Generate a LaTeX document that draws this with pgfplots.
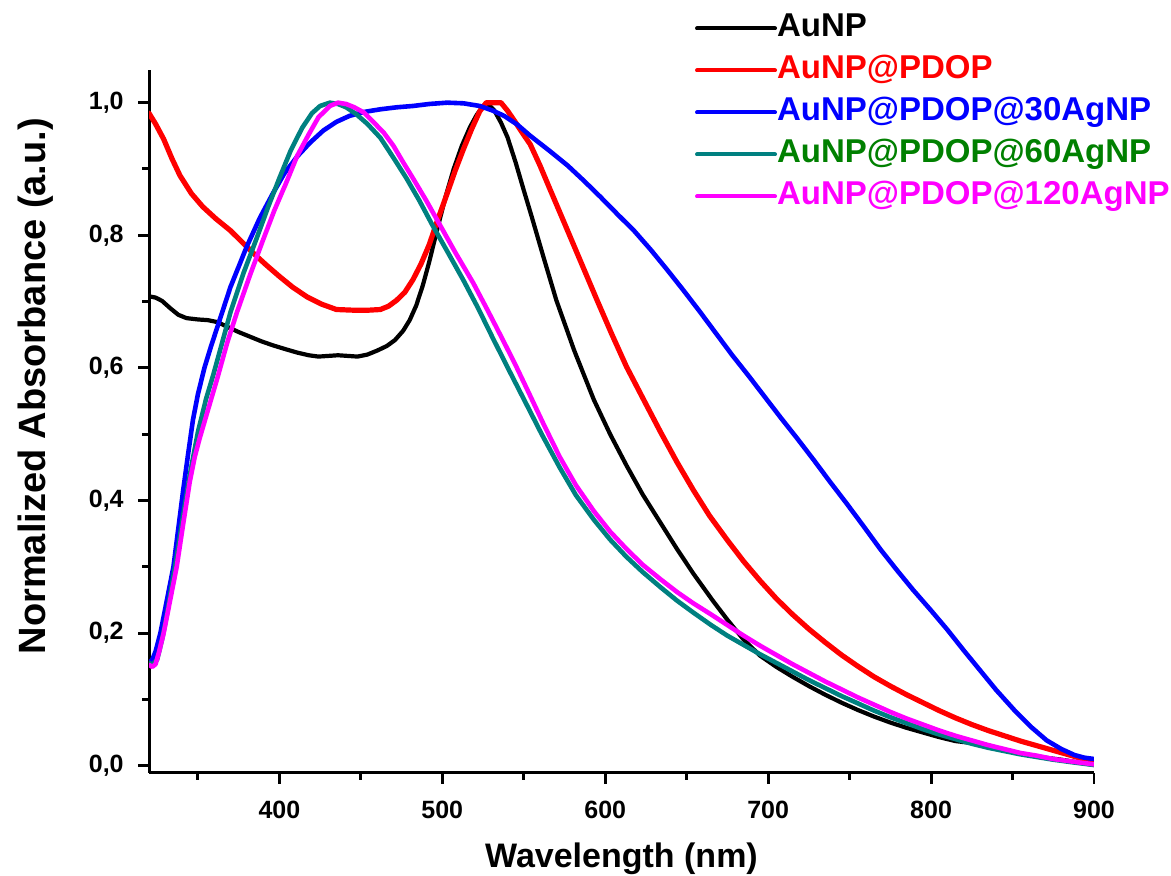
\documentclass[border=0pt]{standalone}
\usepackage{fontspec}
\setmainfont{Liberation Sans}
\usepackage{pgfplots}
\pgfplotsset{compat=1.18}
\definecolor{cteal}{RGB}{0,128,128}
\definecolor{cgreen}{RGB}{0,128,0}
\definecolor{cmag}{RGB}{255,0,255}

\begin{document}
\begin{tikzpicture}
\begin{axis}[
  scale only axis, width=472.5pt, height=351.35pt,
  xmin=320, xmax=900, ymin=-0.0106, ymax=1.0493,
  axis x line*=bottom, axis y line*=left,
  axis line style={line width=1.5pt},
  xtick={400,500,...,900}, minor xtick={350,450,...,850},
  ytick={0,0.2,0.4,0.6,0.8,1.0}, minor ytick={0.1,0.3,0.5,0.7,0.9},
  tick align=outside, major tick length=5.5pt, minor tick length=3.5pt,
  tick style={black, line width=1.5pt},
  /pgf/number format/assume math mode=true,
  tick label style={font=\fontsize{12.5}{14}\selectfont\bfseries, inner sep=0pt},
  y tick label style={/pgf/number format/.cd, fixed, fixed zerofill, precision=1, use comma, /tikz/.cd, xshift=-7pt},
  x tick label style={/pgf/number format/.cd, fixed, 1000 sep={}, /tikz/.cd, yshift=-8.5pt},
  xlabel={Wavelength (nm)},
  ylabel={Normalized Absorbance (a.u.)},
  xlabel style={font=\fontsize{17}{20}\selectfont\bfseries, at={(rel axis cs:0.5,-0.135)}, anchor=base},
  ylabel style={font=\fontsize{19}{22}\selectfont\bfseries, at={(rel axis cs:-0.110,0.55)}, anchor=base},
  legend style={at={(rel axis cs:0.5778,1.0811)}, anchor=north west, draw=none, fill=none,
    inner sep=0pt, outer sep=0pt, row sep=5.5pt,
    font=\fontsize{16.5}{18}\selectfont\bfseries,
    nodes={inner sep=0pt, text height=12pt, text depth=3.5pt},
    /tikz/every even column/.append style={column sep=4pt}},
  legend cell align=left,
  legend image code/.code={\draw[#1, line width=2pt] (0pt,0pt) -- (39pt,0pt);},
  every axis plot/.append style={line join=round, line cap=round},
]
\addplot[black, line width=2.1pt] coordinates {
(320,0.708)(324,0.706)(328,0.701)(333,0.690)(338,0.680)(343,0.675)(350,0.673)(356,0.672)(362,0.669)(368,0.662)(375,0.654)(382,0.647)(389,0.640)(396,0.634)(404,0.628)(411,0.623)(418,0.619)(424,0.617)(430,0.618)(436,0.619)(442,0.618)(448,0.617)(454,0.620)(460,0.626)(466,0.633)(471,0.642)(476,0.656)(480,0.672)(484,0.694)(488,0.724)(492,0.760)(497,0.810)(502,0.858)(507,0.900)(512,0.935)(517,0.963)(521,0.981)(525,0.995)(528,0.998)(532,0.988)(536,0.970)(540,0.948)(545,0.910)(550,0.868)(555,0.827)(562,0.768)(570,0.702)(581,0.626)(593,0.552)(603,0.500)(613,0.453)(623,0.409)(634,0.366)(644,0.327)(654,0.290)(666,0.249)(675,0.220)(685,0.190)(695,0.166)(705,0.149)(715,0.134)(725,0.120)(735,0.107)(745,0.095)(755,0.084)(765,0.074)(775,0.065)(785,0.057)(795,0.050)(805,0.043)(815,0.037)(822,0.035)(829,0.034)(836,0.030)(843,0.025)(850,0.021)(860,0.016)(870,0.012)(880,0.009)(890,0.005)(900,0.001)
};
\addlegendentry{AuNP}
\addplot[red, line width=2.6pt] coordinates {
(320,0.984)(324,0.968)(329,0.945)(334,0.916)(339,0.890)(346,0.863)(353,0.843)(361,0.825)(370,0.807)(377,0.790)(384,0.773)(392,0.755)(400,0.738)(408,0.722)(417,0.707)(426,0.696)(435,0.688)(445,0.687)(455,0.687)(462,0.688)(467,0.693)(472,0.702)(477,0.714)(482,0.733)(487,0.757)(492,0.786)(497,0.822)(503,0.863)(508,0.898)(513,0.930)(518,0.960)(523,0.987)(527,1.0)(536,1.0)(540,0.988)(545,0.970)(549,0.955)(554,0.937)(560,0.905)(566,0.870)(575,0.818)(585,0.760)(595,0.702)(604,0.651)(613,0.602)(624,0.550)(634,0.503)(644,0.458)(654,0.416)(664,0.377)(675,0.340)(685,0.308)(695,0.279)(705,0.252)(715,0.228)(725,0.206)(735,0.186)(745,0.167)(755,0.150)(765,0.134)(775,0.120)(785,0.107)(795,0.095)(805,0.083)(815,0.072)(825,0.062)(835,0.053)(845,0.045)(855,0.037)(865,0.030)(875,0.023)(885,0.016)(892,0.011)(900,0.005)
};
\addlegendentry{\color{red}AuNP@PDOP}
\addplot[blue, line width=2.3pt] coordinates {
(320,0.155)(322,0.160)(324,0.172)(327,0.200)(331,0.250)(335,0.300)(338,0.358)(341,0.416)(344,0.470)(347,0.522)(350,0.560)(354,0.600)(358,0.632)(362,0.662)(370,0.722)(380,0.783)(388,0.826)(396,0.863)(403,0.893)(411,0.919)(419,0.940)(427,0.958)(435,0.971)(443,0.980)(452,0.986)(462,0.990)(472,0.993)(482,0.995)(492,0.998)(503,1.0)(513,0.999)(523,0.995)(531,0.988)(538,0.980)(546,0.967)(554,0.950)(566,0.927)(577,0.905)(587,0.882)(597,0.858)(607,0.833)(618,0.806)(628,0.778)(638,0.748)(648,0.717)(658,0.685)(668,0.652)(678,0.619)(688,0.588)(698,0.556)(708,0.524)(718,0.493)(728,0.461)(738,0.428)(748,0.396)(758,0.363)(769,0.326)(779,0.295)(789,0.265)(800,0.234)(810,0.205)(820,0.174)(830,0.144)(840,0.114)(851,0.084)(862,0.057)(871,0.038)(880,0.025)(888,0.016)(894,0.012)(900,0.010)
};
\addlegendentry{\color{blue}AuNP@PDOP@30AgNP}
\addplot[cteal, line width=2.3pt] coordinates {
(320,0.155)(322,0.152)(325,0.160)(328,0.190)(331,0.228)(334,0.272)(337,0.315)(341,0.378)(345,0.438)(350,0.503)(355,0.553)(359.5,0.590)(364,0.630)(370,0.684)(378,0.743)(386,0.795)(393,0.842)(400,0.886)(407,0.928)(414,0.962)(420,0.984)(425,0.995)(431,1.0)(436,0.998)(441,0.993)(447,0.983)(454,0.968)(462,0.947)(470,0.917)(478,0.886)(486,0.852)(494,0.815)(503,0.776)(513,0.732)(522,0.690)(531,0.645)(540,0.601)(550,0.553)(561,0.500)(572,0.450)(582,0.408)(593,0.371)(603,0.341)(613,0.315)(623,0.292)(634,0.269)(644,0.249)(654,0.231)(665,0.212)(675,0.196)(685,0.182)(695,0.168)(705,0.155)(715,0.142)(725,0.129)(735,0.117)(745,0.105)(755,0.094)(765,0.083)(775,0.073)(785,0.064)(795,0.055)(805,0.047)(815,0.040)(825,0.033)(835,0.027)(845,0.022)(855,0.017)(865,0.013)(875,0.009)(887,0.005)(900,0.001)
};
\addlegendentry{\color{cgreen}AuNP@PDOP@60AgNP}
\addplot[cmag, line width=2.3pt] coordinates {
(320,0.152)(322,0.149)(324,0.153)(326,0.170)(329,0.200)(333,0.250)(337,0.300)(341,0.365)(345,0.428)(348,0.465)(351,0.493)(356,0.535)(362,0.585)(368,0.638)(374,0.684)(382,0.740)(390,0.793)(397,0.838)(404,0.878)(411,0.920)(418,0.952)(424,0.978)(431,0.995)(436,1.0)(441,0.998)(446,0.993)(452,0.985)(458,0.970)(464,0.955)(470,0.935)(476,0.910)(482,0.886)(490,0.853)(498,0.818)(508,0.774)(519,0.728)(528,0.686)(537,0.643)(545,0.604)(552,0.568)(562,0.516)(572,0.466)(582,0.423)(593,0.384)(603,0.353)(613,0.327)(623,0.303)(634,0.281)(644,0.262)(654,0.245)(665,0.228)(675,0.212)(685,0.196)(695,0.181)(705,0.167)(715,0.153)(725,0.140)(735,0.127)(745,0.115)(755,0.103)(765,0.092)(775,0.081)(785,0.071)(795,0.062)(805,0.053)(815,0.045)(825,0.038)(835,0.031)(845,0.025)(855,0.019)(865,0.015)(875,0.010)(887,0.006)(900,0.002)
};
\addlegendentry{\color{cmag}AuNP@PDOP@120AgNP}
\coordinate (bbsw) at (rel axis cs:-0.1577,-0.1465);
\coordinate (bbne) at (rel axis cs:1.0815,1.0996);
\end{axis}
\pgfresetboundingbox
\path (bbsw) rectangle (bbne);
\end{tikzpicture}
\end{document}
